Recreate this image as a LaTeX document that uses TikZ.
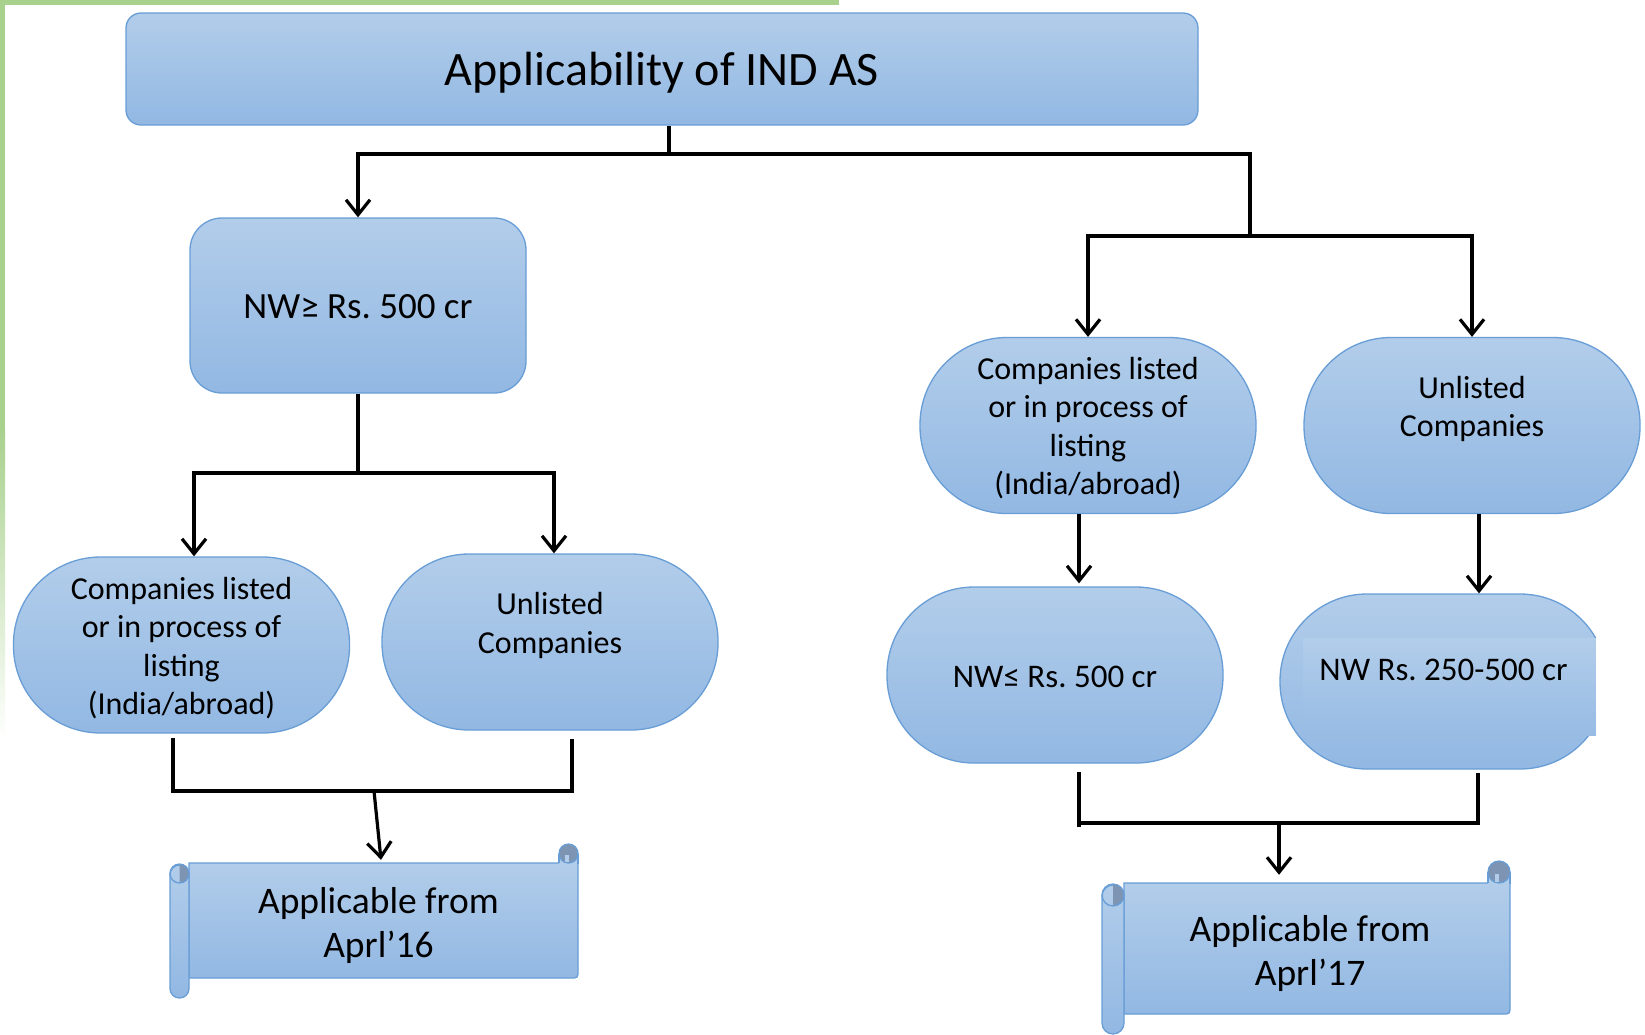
\documentclass[tikz,border=0pt]{standalone}
\usepackage{fontspec}
\setmainfont{Carlito}
\usetikzlibrary{arrows.meta,calc}
\frenchspacing

\definecolor{boxtop}{RGB}{178,205,234}
\definecolor{boxbot}{RGB}{146,184,227}
\definecolor{boxline}{RGB}{104,157,214}
\definecolor{curl}{RGB}{125,148,178}
\definecolor{leaf}{RGB}{169,209,142}

\newcommand\titlefont{\fontsize{48}{56}\selectfont}
\newcommand\bigfont{\fontsize{37}{44}\selectfont}
\newcommand\pillfont{\fontsize{32}{38.5}\selectfont}
\newcommand\nwfont{\fontsize{33}{38.5}\selectfont}
\newcommand\scrollfont{\fontsize{37.5}{44}\selectfont}

% Scroll banner: #1 top-left of the sheet, #2 bottom-right, #3 roll width, #4 roll radius
\newcommand\scrollshape[4]{%
  \draw[fillbox] (#1) -- (#1 -| #2) -- ($(#2)+(0,-8)$) .. controls (#2) .. ($(#2)+(-8,0)$) -- (#2 -| #1) -- cycle;
  % curl at the top right
  \fill[boxtop] ($(#1 -| #2)+(-#3,-#3/2)$) rectangle ($(#1 -| #2)+(0,1)$);
  \draw[edge] ($(#1 -| #2)+(-#3,-#3/2)$) -- ($(#1 -| #2)+(-#3,0)$);
  \draw[edge] ($(#1 -| #2)+(0,-#3/2)$) -- ($(#1 -| #2)+(0,1)$);
  \filldraw[edge, fill=curl] ($(#1 -| #2)+(-#3/2,-#3/2)$) circle[radius=#4];
  \fill[boxtop] ($(#1 -| #2)+(-#3*0.7,-#3*0.4)$) rectangle ($(#1 -| #2)+(-#3/2,-0.7)$);
  % rolled left edge
  \draw[fillbox, rounded corners=#4] ($(#1)+(-#3,2)$) rectangle ($(#2 -| #1)+(0,20)$);
  \begin{scope}
    \clip ($(#1)+(-#3/2,0)$) rectangle ($(#1)+(0,#3+2)$);
    \fill[curl] ($(#1)+(-#3/2,#3/2+1)$) circle[radius=#4];
  \end{scope}
  \draw[edge] ($(#1)+(-#3/2,#3/2+1)$) circle[radius=#4];
}

\begin{document}
\begin{tikzpicture}[x=1pt,y=-1pt,
  edge/.style={draw=boxline, line width=1.3pt},
  fillbox/.style={edge, top color=boxtop, bottom color=boxbot},
  panel/.style={fillbox, rectangle, rounded corners=#1, inner sep=0pt},
  pill/.style={fillbox, rectangle, rounded corners=87pt, minimum width=336pt,
    minimum height=176pt, inner sep=0pt},
  pilltext/.style={font=\pillfont, align=center, inner sep=0pt},
  nwtext/.style={font=\nwfont, align=center, inner sep=0pt},
  scrolltext/.style={inner sep=0pt, align=center, font=\scrollfont},
  conn/.style={line width=3.2pt, black},
  arr/.style={conn, -{Straight Barb[length=15pt,width=24pt]}}]

\useasboundingbox (0,0) rectangle (1645,1034);
\fill[white] (0,0) rectangle (1645,1034);

% green page edge
\fill[leaf] (0,0) rectangle (839,5);
\fill[leaf] (0,0) rectangle (5,430);
\shade[top color=leaf, bottom color=white] (0,430) rectangle (5,740);

% title
\node[panel=15pt, minimum width=1072pt, minimum height=112pt,
  label={[font=\titlefont, inner sep=0pt, yshift=-4pt]center:Applicability of IND AS}]
  (title) at (662,69) {};

% left branch
\node[panel=32pt, minimum width=336pt, minimum height=175pt,
  label={[font=\bigfont, inner sep=0pt, yshift=-1pt]center:NW≥ Rs. 500 cr}]
  (nwA) at (358,305.5) {};
\node[pill, label={[pilltext, yshift=-3pt]center:Companies listed\\or in process of\\listing\\(India/abroad)}]
  (lL) at (181.5,645) {};
\node[pill, label={[pilltext, yshift=16.5pt]center:Unlisted\\Companies}] (lU) at (550,642) {};

% right branch
\node[pill, label={[pilltext, yshift=-2.5pt]center:Companies listed\\or in process of\\listing\\(India/abroad)}]
  (rL) at (1088,425.5) {};
\node[pill, label={[pilltext, yshift=16.5pt]center:Unlisted\\Companies}] (rU) at (1472,425.5) {};
\node[pill, label={[nwtext, yshift=-2pt]center:NW≤ Rs. 500 cr}] (rN1) at (1055,675) {};
\node[pill, minimum width=327pt, minimum height=175pt] (rN2) at (1443.5,681.5) {};
\shade[top color=boxtop, bottom color=boxbot!85!boxtop] (1303,638) rectangle (1596,735);
\fill[white] (1596,638) rectangle (1611,735);
\node[nwtext] (rN2t) at (1443.5,669.5) {NW Rs. 250-500 cr};

% scroll banners
\coordinate (s1nw) at (189,863);
\coordinate (s1se) at (578,978);
\scrollshape{s1nw}{s1se}{19}{9.5pt}
\node[scrolltext, minimum width=389pt, minimum height=115pt] (s1) at (378.5,925)
  {Applicable from\\Aprl’16};

\coordinate (s2nw) at (1124,883);
\coordinate (s2se) at (1510,1014);
\scrollshape{s2nw}{s2se}{22}{11pt}
\node[scrolltext, minimum width=386pt, minimum height=131pt] (s2) at (1310,953)
  {Applicable from\\Aprl’17};

% connectors from the title
\coordinate (j0) at (669,154);
\coordinate (jR) at (1250,236);
\draw[conn] ([xshift=7pt]title.south) -- (j0);
\draw[arr] (j0) -| (nwA.north);
\draw[conn] (j0) -| (jR);
\draw[arr] (jR) -| (rL.north);
\draw[arr] (jR) -| (rU.north);

% left branch connectors
\coordinate (j1) at (358,473);
\draw[conn] (nwA.south) -- (j1);
\draw[arr] (j1) -| ([xshift=12.5pt]lL.north);
\draw[arr] (j1) -| ([xshift=4pt]lU.north);
\coordinate (j2) at (374,791);
\draw[conn] ([xshift=-8.5pt,yshift=-4pt]lL.south) |- (j2) -| ([xshift=22pt,yshift=-8pt]lU.south);
\draw[arr] (j2) -- ([xshift=2.5pt,yshift=7.5pt]s1.north);

% right branch connectors
\draw[arr] ([xshift=-9pt]rL.south) -- ([xshift=-9pt,yshift=3pt]rL.south |- rN1.north);
\draw[arr] ([xshift=7pt]rU.south) -- ([xshift=7pt]rU.south |- rN2.north);
\coordinate (j3) at (1279,823);
\draw[conn] ([xshift=24pt,yshift=-8pt]rN1.south) -- ([xshift=24pt]rN1.south |- 0,827);
\draw[conn] ([xshift=24pt]rN1.south |- j3) -| ([xshift=34.5pt,yshift=-3pt]rN2.south);
\draw[arr] (j3) -- ([xshift=-31pt,yshift=12.5pt]s2.north);

\end{tikzpicture}
\end{document}
